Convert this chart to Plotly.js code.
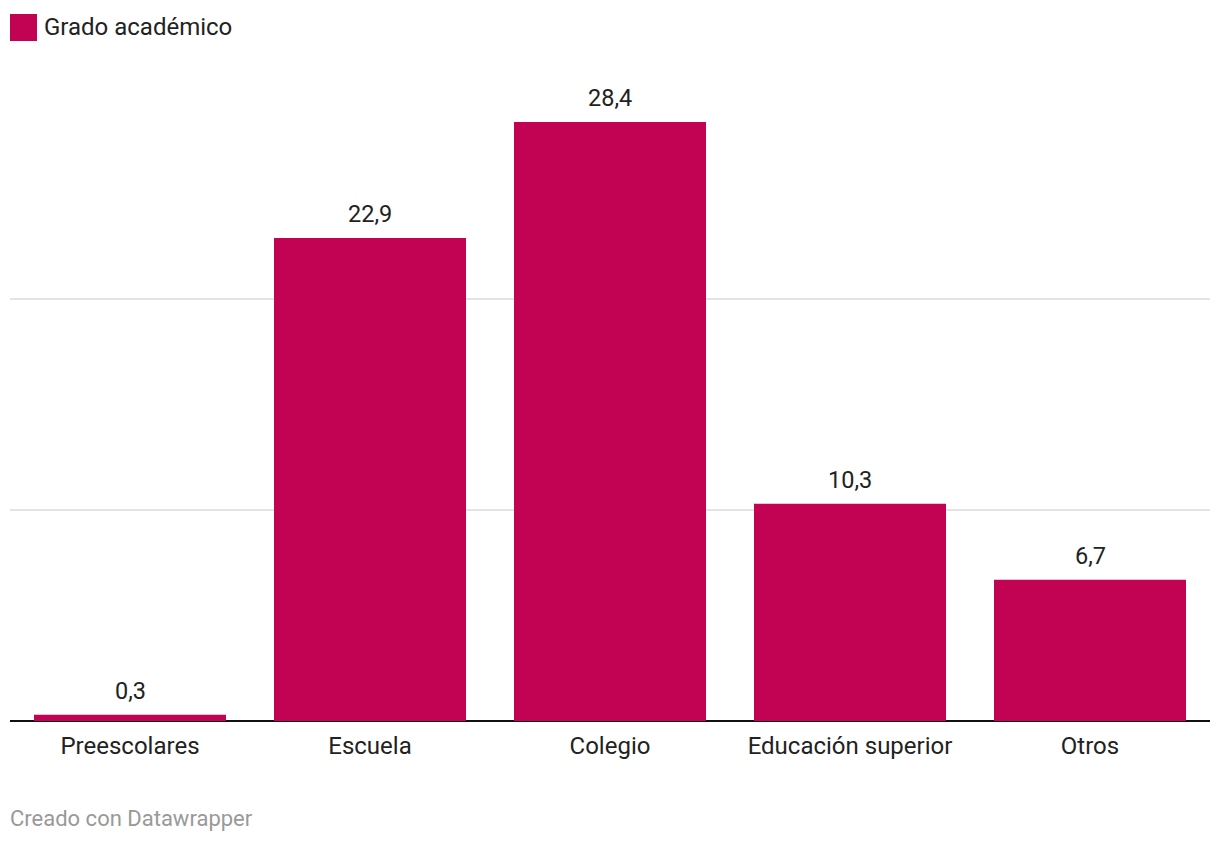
<!DOCTYPE html>
<html>
<head>
<meta charset="utf-8">
<script src="https://cdn.plot.ly/plotly-3.0.1.min.js"></script>
<style>
html,body{margin:0;padding:0;background:#fff;}
#chart{width:1220px;height:844px;}
</style>
</head>
<body>
<div id="chart"></div>
<script>
const categories = ["Preescolares", "Escuela", "Colegio", "Educación superior", "Otros"];
const values = [0.3, 22.9, 28.4, 10.3, 6.7];
const gridValues = [0, 10, 20];
const seriesName = "Grado académico";
const barColor = "#c20353";

const trace = {
  type: "bar",
  x: categories,
  y: values,
  name: seriesName,
  marker: {color: barColor},
  hoverinfo: "skip",
  showlegend: false
};

const valueLabels = categories.map((c, i) => ({
  x: c, y: values[i], xref: "x", yref: "y",
  text: values[i].toFixed(1).replace(".", ","),
  showarrow: false, yanchor: "bottom", yshift: 8,
  font: {family: "Roboto, sans-serif", size: 23.5, color: "#222"}
}));

const layout = {
  width: 1220, height: 844,
  margin: {l: 10, r: 10, t: 60, b: 123, pad: 0},
  paper_bgcolor: "#fff", plot_bgcolor: "#fff",
  bargap: 0.2,
  separators: ",.",
  font: {family: "Roboto, sans-serif", color: "#222"},
  xaxis: {
    type: "category",
    showgrid: false, showline: false, zeroline: false,
    ticks: "outside", ticklen: 3, tickcolor: "rgba(0,0,0,0)",
    tickfont: {family: "Roboto, sans-serif", size: 24, color: "#222"},
    fixedrange: true
  },
  yaxis: {
    range: [0, 31.34],
    tickmode: "array", tickvals: gridValues,
    showgrid: true, gridcolor: "#e4e4e4", gridwidth: 2,
    showticklabels: false, ticks: "",
    zeroline: true, zerolinecolor: "#111", zerolinewidth: 2,
    fixedrange: true
  },
  shapes: [{
    type: "rect", xref: "paper", yref: "paper",
    x0: 0, x1: 27/1200,
    y0: (721-41)/661, y1: (721-14)/661,
    line: {width: 0}, fillcolor: barColor
  }],
  annotations: valueLabels.concat([
    {xref: "paper", yref: "paper", x: 32/1200, y: 1 + (60-27)/661, xanchor: "left", yanchor: "middle",
     text: seriesName, showarrow: false,
     font: {family: "Roboto, sans-serif", size: 24, color: "#222"}},
    {xref: "paper", yref: "paper", x: -2/1200, y: -(818-721)/661, xanchor: "left", yanchor: "middle",
     text: "Creado con Datawrapper", showarrow: false,
     font: {family: "Roboto, sans-serif", size: 22, color: "#999"}}
  ])
};

Plotly.newPlot("chart", [trace], layout, {displayModeBar: false, staticPlot: true});
</script>
</body>
</html>
